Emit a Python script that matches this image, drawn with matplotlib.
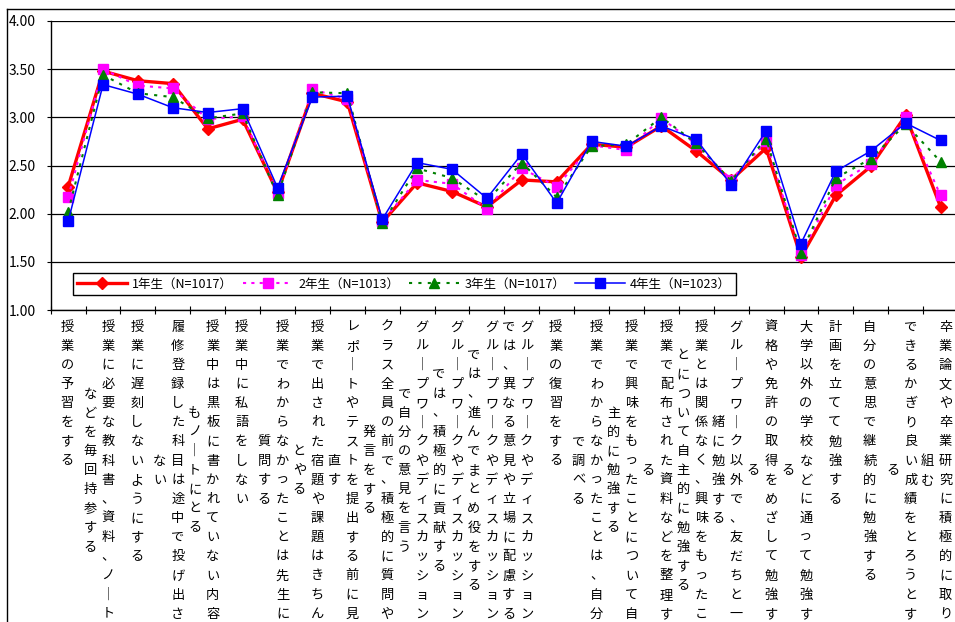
import numpy as np
import matplotlib.pyplot as plt
from matplotlib.lines import Line2D
from matplotlib.transforms import blended_transform_factory

plt.rcParams['font.family'] = ['Noto Sans CJK JP', 'DejaVu Sans']

# survey items (x categories)
items = [
    "授業の予習をする",
    "授業に必要な教科書、資料、ノートなどを毎回持参する",
    "授業に遅刻しないようにする",
    "履修登録した科目は途中で投げ出さない",
    "授業中は黒板に書かれていない内容もノートにとる",
    "授業中に私語をしない",
    "授業でわからなかったことは先生に質問する",
    "授業で出された宿題や課題はきちんとやる",
    "レポートやテストを提出する前に見直す",
    "クラス全員の前で、積極的に質問や発言をする",
    "グループワークやディスカッションで自分の意見を言う",
    "グループワークやディスカッションでは、積極的に貢献する",
    "グループワークやディスカッションでは、進んでまとめ役をする",
    "グループワークやディスカッションでは、異なる意見や立場に配慮する",
    "授業の復習をする",
    "授業でわからなかったことは、自分で調べる",
    "授業で興味をもったことについて自主的に勉強する",
    "授業で配布された資料などを整理する",
    "授業とは関係なく、興味をもったことについて自主的に勉強する",
    "グループワーク以外で、友だちと一緒に勉強する",
    "資格や免許の取得をめざして勉強する",
    "大学以外の学校などに通って勉強する",
    "計画を立てて勉強する",
    "自分の意思で継続的に勉強する",
    "できるかぎり良い成績をとろうとする",
    "卒業論文や卒業研究に積極的に取り組む",
]

series_names = ["1年生（N=1017）", "2年生（N=1013）", "3年生（N=1017）", "4年生（N=1023）"]

grade1 = [2.28, 3.48, 3.38, 3.35, 2.88, 2.98, 2.22, 3.25, 3.16, 1.91, 2.32, 2.23, 2.07,
          2.35, 2.33, 2.72, 2.69, 2.91, 2.65, 2.35, 2.68, 1.55, 2.19, 2.49, 3.02, 2.07]
grade2 = [2.17, 3.50, 3.33, 3.30, 2.98, 3.01, 2.21, 3.29, 3.19, 1.92, 2.35, 2.31, 2.05,
          2.47, 2.28, 2.71, 2.66, 2.99, 2.72, 2.35, 2.75, 1.57, 2.30, 2.52, 3.00, 2.19]
grade3 = [2.02, 3.44, 3.25, 3.21, 2.99, 3.04, 2.19, 3.26, 3.25, 1.90, 2.47, 2.37, 2.13,
          2.53, 2.17, 2.70, 2.72, 3.00, 2.73, 2.34, 2.78, 1.59, 2.37, 2.57, 2.93, 2.54]
grade4 = [1.92, 3.34, 3.24, 3.10, 3.05, 3.09, 2.27, 3.21, 3.22, 1.94, 2.53, 2.46, 2.16,
          2.62, 2.11, 2.75, 2.70, 2.91, 2.77, 2.30, 2.86, 1.69, 2.44, 2.65, 2.94, 2.76]

y_ticks = [1.0, 1.5, 2.0, 2.5, 3.0, 3.5, 4.0]

W, H = 955, 622
fig = plt.figure(figsize=(W / 100, H / 100), dpi=100)

# plot area in pixels
left, right, top, bottom = 50.7, 958.0, 21.0, 310.0
ax = fig.add_axes([left / W, 1 - bottom / H, (right - left) / W, (bottom - top) / H])

n = len(items)
x = np.arange(n)
cat_w = (right - left) / n

styles = [
    dict(color='#FF0000', lw=2.4, ls='-', marker='D', ms=6.5),
    dict(color='#FF00FF', lw=1.5, ls=(0, (1.5, 2.5)), marker='s', ms=6.5),
    dict(color='#008000', lw=1.5, ls=(0, (1.5, 3.0)), marker='^', ms=7.5),
    dict(color='#0000FF', lw=1.1, ls='-', marker='s', ms=6.5),
]
handles = []
for vals, name, st in zip([grade1, grade2, grade3, grade4], series_names, styles):
    h, = ax.plot(x, vals, color=st['color'], lw=st['lw'], ls=st['ls'],
                 marker=st['marker'], ms=st['ms'], mfc=st['color'], mec=st['color'],
                 label=name, clip_on=False)
    handles.append(h)

ax.set_xlim(-0.5, n - 0.5)
ax.set_ylim(1, 4)
ax.set_yticks(y_ticks)
ax.set_yticklabels([f"{v:.2f}" for v in y_ticks], fontsize=10)
ax.set_xticks(np.arange(n + 1) - 0.5)
ax.set_xticklabels([])
ax.tick_params(axis='x', direction='inout', length=6, width=0.8, color='black')
ax.tick_params(axis='y', direction='out', length=3, width=0.8, pad=8)
ax.yaxis.grid(True, color='black', lw=0.9)
ax.set_axisbelow(True)
for s in ['top', 'right']:
    ax.spines[s].set_visible(False)
for s in ['left', 'bottom']:
    ax.spines[s].set_color('black')
    ax.spines[s].set_linewidth(1.0)

# vertical category labels, one character per line, wrapping at 16 chars
tr = blended_transform_factory(ax.transData, fig.transFigure)
pitch = 19.15
y_first = 327.0
per_col = 16
# long vowel mark turns into a vertical bar in vertical writing
vertical_forms = {'ー': '｜'}


def draw_column(xc, text, y0):
    for i, ch in enumerate(text):
        ax.text(xc, 1 - (y0 + i * pitch) / H, vertical_forms.get(ch, ch), transform=tr,
                ha='center', va='center', fontsize=9.5, color='black')


y_mid = y_first + (per_col - 1) / 2 * pitch
for i, label in enumerate(items):
    if len(label) <= per_col:
        draw_column(i - 1.0 / cat_w, label, y_first)
    else:
        head, rest = label[:per_col], label[per_col:]
        draw_column(i + 5.0 / cat_w, head, y_first)
        draw_column(i - 13.0 / cat_w, rest, y_mid - (len(rest) - 1) / 2 * pitch)

leg = ax.legend(handles=handles, loc='upper left',
                bbox_to_anchor=((73 - left) / (right - left), (bottom - 273) / (bottom - top)),
                borderaxespad=0, ncol=4, fontsize=9, handlelength=4.0, handletextpad=0.4,
                columnspacing=0.8, borderpad=0.35, numpoints=1, fancybox=False,
                framealpha=1, edgecolor='black')
leg.get_frame().set_linewidth(1.0)

# chart area border
fig.add_artist(Line2D([7 / W, 1], [1 - 9 / H, 1 - 9 / H], color='black', lw=1.0,
                      transform=fig.transFigure))
fig.add_artist(Line2D([7 / W, 7 / W], [0, 1 - 9 / H], color='black', lw=1.0,
                      transform=fig.transFigure))

fig.savefig('out.png', dpi=100)
